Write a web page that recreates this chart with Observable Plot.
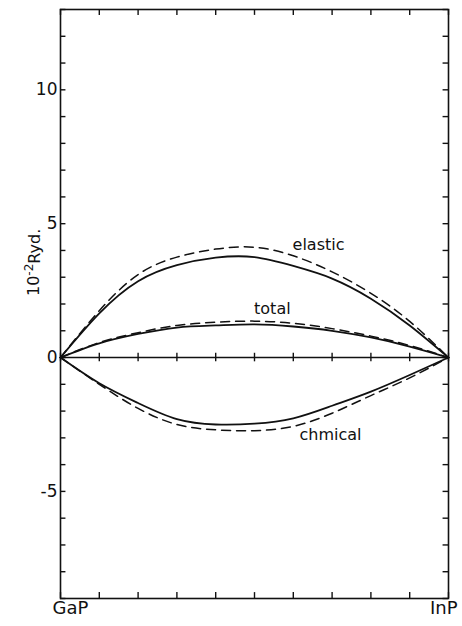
<!DOCTYPE html>
<html><head><meta charset="utf-8">
<script src="https://cdn.jsdelivr.net/npm/d3@7"></script>
<script src="https://cdn.jsdelivr.net/npm/@observablehq/plot@0.6"></script>
<style>body{margin:0;background:#fff}</style>
</head><body><div id="chart"></div>
<script>
// composition axis: GaP (0) -> InP (1)
const composition = [0, 0.1, 0.2, 0.3, 0.4, 0.5, 0.6, 0.7, 0.8, 0.9, 1];
const elasticSolid  = [0, 1.65, 2.85, 3.45, 3.73, 3.75, 3.42, 2.95, 2.2, 1.2, 0];
const elasticDashed = [0, 1.75, 3.1, 3.75, 4.05, 4.12, 3.8, 3.2, 2.4, 1.35, 0];
const totalSolid    = [0, 0.53, 0.88, 1.12, 1.2, 1.24, 1.16, 1.0, 0.75, 0.41, 0];
const totalDashed   = [0, 0.56, 0.93, 1.2, 1.32, 1.36, 1.28, 1.08, 0.8, 0.45, 0];
const chemSolid     = [0, -0.96, -1.7, -2.3, -2.5, -2.47, -2.27, -1.8, -1.27, -0.65, 0];
const chemDashed    = [0, -1.0, -1.9, -2.5, -2.7, -2.73, -2.57, -2.08, -1.42, -0.76, 0];

const curveLabels = ["elastic", "total", "chmical"];
const curveLabelX = [0.665, 0.546, 0.696];
const curveLabelY = [4.22, 1.83, -2.88];

const yTickValues = [10, 5, 0, -5];
const yMinorTicks = [-9,-8,-7,-6,-5,-4,-3,-2,-1,0,1,2,3,4,5,6,7,8,9,10,11,12,13];
const xMinorTicks = [0, 0.1, 0.2, 0.3, 0.4, 0.5, 0.6, 0.7, 0.8, 0.9, 1];
const xEndLabels = ["GaP", "InP"];
const xEndPos = [0, 1];
const yAxisLabelParts = ["10", "-2", "Ryd."];

function rows(vals, name) { return composition.map((x, i) => ({x, y: vals[i], series: name})); }
const solidRows = [...rows(elasticSolid, "elastic"), ...rows(totalSolid, "total"), ...rows(chemSolid, "chemical")];
const dashedRows = [...rows(elasticDashed, "elastic"), ...rows(totalDashed, "total"), ...rows(chemDashed, "chemical")];
const labelRows = curveLabels.map((t, i) => ({t, x: curveLabelX[i], y: curveLabelY[i]}));
const endRows = xEndLabels.map((t, i) => ({t, x: xEndPos[i]}));

const ink = "#111";
const chart = Plot.plot({
  width: 462, height: 626,
  marginLeft: 60, marginRight: 14, marginTop: 9, marginBottom: 28,
  x: {domain: [0, 1], axis: null},
  y: {domain: [-9, 13], axis: null},
  style: {fontFamily: "DejaVu Sans", background: "#fff", color: ink},
  marks: [
    Plot.frame({stroke: ink, strokeWidth: 1.6}),
    Plot.ruleY([0], {stroke: ink, strokeWidth: 1.5}),
    Plot.ruleY(yMinorTicks, {y: d => d, x1: 0, x2: 0.014, stroke: ink, strokeWidth: 1.4}),
    Plot.ruleY(yMinorTicks, {y: d => d, x1: 0.986, x2: 1, stroke: ink, strokeWidth: 1.4}),
    Plot.ruleX(xMinorTicks, {x: d => d, y1: 13, y2: 12.78, stroke: ink, strokeWidth: 1.4}),
    Plot.ruleX(xMinorTicks, {x: d => d, y1: -9, y2: -8.78, stroke: ink, strokeWidth: 1.4}),
    Plot.ruleX(xMinorTicks, {x: d => d, y1: -0.16, y2: 0.16, stroke: ink, strokeWidth: 1.4}),
    Plot.line(solidRows, {x: "x", y: "y", z: "series", curve: "natural", stroke: ink, strokeWidth: 1.8}),
    Plot.line(dashedRows, {x: "x", y: "y", z: "series", curve: "natural", stroke: ink, strokeWidth: 1.5, strokeDasharray: "9,6"}),
    Plot.axisY(yTickValues, {anchor: "left", tickSize: 0, tickPadding: 3, fontSize: 17, tickFormat: d => String(d), label: null, color: ink}),
    Plot.text(labelRows, {x: "x", y: "y", text: "t", fontSize: 16, fill: ink}),
    Plot.text(endRows.slice(0, 1), {x: "x", text: "t", frameAnchor: "bottom", dy: 15, dx: -8, textAnchor: "start", fontSize: 18, fill: ink}),
    Plot.text(endRows.slice(1), {x: "x", text: "t", frameAnchor: "bottom", dy: 15, dx: 9, textAnchor: "end", fontSize: 18, fill: ink}),
    Plot.text([yAxisLabelParts.join("")], {text: d => d, frameAnchor: "left", rotate: -90, dx: -27, dy: -8, fontSize: 16, fill: ink, className: "ylabel"})
  ]
});
// rich text for the y label: 10 with superscript -2, then Ryd.
d3.select(chart).selectAll(".ylabel text").each(function() {
  const t = d3.select(this);
  t.text(null);
  t.append("tspan").text(yAxisLabelParts[0]);
  t.append("tspan").attr("dy", "-0.45em").attr("font-size", 12).text(yAxisLabelParts[1]);
  t.append("tspan").attr("dy", "0.45em").text(yAxisLabelParts[2]);
});
document.getElementById("chart").appendChild(chart);
</script>
</body></html>
